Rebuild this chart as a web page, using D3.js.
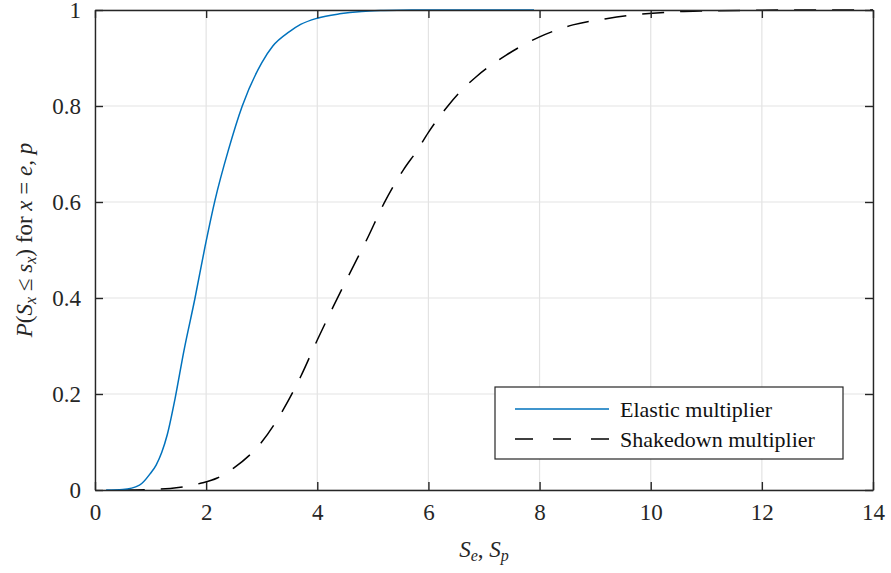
<!DOCTYPE html>
<html><head><meta charset="utf-8">
<script src="https://cdn.jsdelivr.net/npm/d3@7"></script>
</head><body style="margin:0;background:#fff">
<svg id="fig" width="891" height="573" font-family="Liberation Serif"></svg>
<style>#fig text, #fig tspan { font-family: 'Liberation Serif', serif !important; }</style>
<script>
const xTicks = [0, 2, 4, 6, 8, 10, 12, 14];
const yTicks = [0, 0.2, 0.4, 0.6, 0.8, 1];
const yTickLabels = ["0", "0.2", "0.4", "0.6", "0.8", "1"];
const elasticX = [0.2, 0.5, 0.8, 1.0, 1.1, 1.2, 1.3, 1.44, 1.6, 1.8, 1.98, 2.16, 2.4, 2.65, 3.0, 3.2, 3.5, 3.7, 4.0, 4.4, 4.8, 5.2, 5.7, 6.5, 7.9];
const elasticY = [0, 0.001, 0.01, 0.035, 0.052, 0.078, 0.115, 0.19, 0.29, 0.40, 0.507, 0.604, 0.708, 0.80, 0.89, 0.925, 0.955, 0.97, 0.983, 0.992, 0.997, 0.999, 1, 1, 1];
const shakeX = [0.5, 1.0, 1.5, 1.9, 2.2, 2.5, 3.0, 3.4, 3.7, 4.0, 4.3, 4.6, 4.9, 5.2, 5.55, 5.8, 6.0, 6.35, 6.6, 6.85, 7.4, 8.0, 8.6, 9.2, 9.7, 10.4, 11, 12, 13, 14];
const shakeY = [0, 0.001, 0.005, 0.014, 0.025, 0.046, 0.10, 0.17, 0.236, 0.3125, 0.385, 0.455, 0.524, 0.597, 0.667, 0.708, 0.745, 0.80, 0.833, 0.86, 0.906, 0.944, 0.969, 0.982, 0.99, 0.996, 0.998, 0.9995, 1, 1];
const legendLabels = ["Elastic multiplier", "Shakedown multiplier"];

const FONT = "Liberation Serif";
const svg = d3.select("#fig");
const L = 95, R = 873, T = 10, B = 490;
const x = d3.scaleLinear().domain([0, 14]).range([L, R]);
const y = d3.scaleLinear().domain([0, 1]).range([B, T]);
const axisColor = "#262626";
const fs = 23;
function serif(sel) { return sel.attr("font-family", FONT).style("font-family", "'Liberation Serif', serif", "important"); }

// grid
const g = svg.append("g");
g.selectAll(".gx").data(xTicks).enter().append("line")
  .attr("x1", d => x(d)).attr("x2", d => x(d)).attr("y1", T).attr("y2", B)
  .attr("stroke", "#e3e3e3").attr("stroke-width", 1.2);
g.selectAll(".gy").data(yTicks).enter().append("line")
  .attr("y1", d => y(d)).attr("y2", d => y(d)).attr("x1", L).attr("x2", R)
  .attr("stroke", "#e3e3e3").attr("stroke-width", 1.2);

// lines
const line = d3.line().x(d => x(d[0])).y(d => y(d[1])).curve(d3.curveMonotoneX);
svg.append("path").datum(shakeX.map((v, i) => [v, shakeY[i]]))
  .attr("d", line).attr("fill", "none").attr("stroke", "#000").attr("stroke-width", 1.5)
  .attr("stroke-dasharray", "22,16");
svg.append("path").datum(elasticX.map((v, i) => [v, elasticY[i]]))
  .attr("d", line).attr("fill", "none").attr("stroke", "#0072BD").attr("stroke-width", 1.5);

// axes (inward ticks, box)
const tickLen = 8;
const axB = d3.axisBottom(x).tickValues(xTicks).tickSizeInner(-tickLen).tickSizeOuter(0).tickPadding(14).tickFormat(d3.format("d"));
const axT = d3.axisTop(x).tickValues(xTicks).tickSizeInner(-tickLen).tickSizeOuter(0).tickFormat("");
const axL = d3.axisLeft(y).tickValues(yTicks).tickSizeInner(-tickLen).tickSizeOuter(0).tickPadding(14).tickFormat((d, i) => yTickLabels[i]);
const axR = d3.axisRight(y).tickValues(yTicks).tickSizeInner(-tickLen).tickSizeOuter(0).tickFormat("");
function style(sel) {
  serif(sel).attr("font-size", fs);
  sel.select(".domain").attr("stroke", axisColor).attr("stroke-width", 1.4);
  sel.selectAll(".tick line").attr("stroke", axisColor).attr("stroke-width", 1.4);
  serif(sel.selectAll(".tick text")).attr("fill", axisColor).attr("font-size", fs);
}
svg.append("g").attr("transform", `translate(0,${B})`).call(axB).call(style);
svg.append("g").attr("transform", `translate(0,${T})`).call(axT).call(style);
svg.append("g").attr("transform", `translate(${L},0)`).call(axL).call(style);
svg.append("g").attr("transform", `translate(${R},0)`).call(axR).call(style);

// legend
const lg = svg.append("g");
lg.append("rect").attr("x", 495).attr("y", 387).attr("width", 348).attr("height", 72)
  .attr("fill", "#fff").attr("stroke", axisColor).attr("stroke-width", 1.2);
lg.append("line").attr("x1", 515).attr("x2", 609).attr("y1", 409).attr("y2", 409)
  .attr("stroke", "#0072BD").attr("stroke-width", 1.5);
lg.append("line").attr("x1", 515).attr("x2", 609).attr("y1", 439).attr("y2", 439)
  .attr("stroke", "#000").attr("stroke-width", 1.5).attr("stroke-dasharray", "18,20");
serif(lg.selectAll(".lt").data(legendLabels).enter().append("text"))
  .attr("x", 620).attr("y", (d, i) => 417 + i * 30)
  .attr("font-size", 22).attr("fill", "#111").text(d => d);

// x label
const xl = serif(svg.append("text")).attr("x", 484).attr("y", 557).attr("text-anchor", "middle")
  .attr("font-size", fs).attr("fill", axisColor);
xl.append("tspan").attr("font-style", "italic").text("S");
xl.append("tspan").attr("font-style", "italic").attr("font-size", 16).attr("dy", 4).text("e");
xl.append("tspan").attr("dy", -4).text(", ");
xl.append("tspan").attr("font-style", "italic").text("S");
xl.append("tspan").attr("font-style", "italic").attr("font-size", 16).attr("dy", 4).text("p");

// y label
const yl = serif(svg.append("text")).attr("transform", "translate(32,240) rotate(-90)")
  .attr("text-anchor", "middle").attr("font-size", fs).attr("fill", axisColor);
yl.append("tspan").attr("font-style", "italic").text("P");
yl.append("tspan").text("(");
yl.append("tspan").attr("font-style", "italic").text("S");
yl.append("tspan").attr("font-style", "italic").attr("font-size", 16).attr("dy", 4).text("x");
yl.append("tspan").attr("dy", -4).text(" ≤ ");
yl.append("tspan").attr("font-style", "italic").text("s");
yl.append("tspan").attr("font-style", "italic").attr("font-size", 16).attr("dy", 4).text("x");
yl.append("tspan").attr("dy", -4).text(") for ");
yl.append("tspan").attr("font-style", "italic").text("x");
yl.append("tspan").text(" = ");
yl.append("tspan").attr("font-style", "italic").text("e, p");
</script>
</body></html>
